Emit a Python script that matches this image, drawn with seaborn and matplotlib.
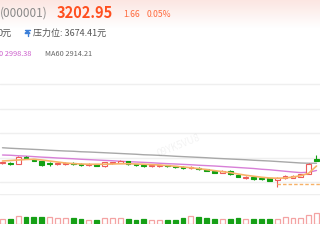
import numpy as np
import pandas as pd
import matplotlib
matplotlib.use("Agg")
import matplotlib.pyplot as plt
from matplotlib.lines import Line2D
from matplotlib.patches import Polygon
import seaborn as sns

# ---------------- data ----------------
opens  = [3192, 3194, 3188, 3240, 3222, 3206, 3196, 3184, 3184, 3194,
          3184, 3178, 3182, 3166, 3190, 3196, 3206, 3184, 3178, 3166,
          3168, 3176, 3168, 3162, 3150, 3154, 3144, 3128, 3114, 3130,
          3096, 3072, 3078, 3074, 3070, 3056, 3070, 3074, 3082, 3106, 3222]
closes = [3198, 3184, 3242, 3234, 3212, 3178, 3186, 3190, 3190, 3184,
          3176, 3184, 3170, 3198, 3198, 3206, 3182, 3176, 3168, 3176,
          3174, 3168, 3158, 3150, 3162, 3142, 3132, 3114, 3128, 3104,
          3082, 3082, 3064, 3062, 3050, 3074, 3088, 3088, 3102, 3188, 3210]
highs  = [3204, 3202, 3248, 3248, 3228, 3212, 3204, 3196, 3198, 3200,
          3190, 3190, 3186, 3202, 3204, 3216, 3212, 3188, 3184, 3180,
          3178, 3180, 3172, 3168, 3168, 3160, 3148, 3134, 3134, 3136,
          3102, 3088, 3082, 3080, 3074, 3080, 3094, 3094, 3106, 3192, 3256]
lows   = [3184, 3176, 3184, 3228, 3208, 3172, 3172, 3176, 3176, 3178,
          3170, 3172, 3166, 3162, 3186, 3192, 3176, 3172, 3162, 3160,
          3164, 3162, 3152, 3144, 3144, 3136, 3128, 3110, 3110, 3098,
          3078, 3062, 3058, 3056, 3046, 3000, 3064, 3070, 3078, 3102, 3206]
ma_orange = [3208, 3212, 3216, 3220, 3222, 3216, 3208, 3200, 3192, 3187,
             3184, 3182, 3182, 3182, 3184, 3186, 3186, 3184, 3182, 3179,
             3176, 3171, 3166, 3160, 3154, 3147, 3139, 3131, 3123, 3115,
             3104, 3094, 3086, 3078, 3072, 3070, 3072, 3080, 3090, 3110, 3168]
ma30 = [3256, 3254, 3250, 3247, 3243, 3239, 3236, 3232, 3229, 3226,
        3222, 3219, 3216, 3213, 3210, 3206, 3203, 3200, 3197, 3194,
        3190, 3187, 3184, 3181, 3178, 3174, 3171, 3168, 3164, 3160,
        3156, 3152, 3148, 3142, 3138, 3132, 3126, 3120, 3115, 3118, 3132]
ma60 = [3314, 3310, 3307, 3304, 3301, 3298, 3294, 3291, 3288, 3286,
        3282, 3280, 3277, 3274, 3271, 3268, 3265, 3262, 3258, 3256,
        3253, 3250, 3246, 3243, 3240, 3237, 3234, 3230, 3227, 3224,
        3221, 3218, 3214, 3211, 3208, 3204, 3200, 3196, 3192, 3190, 3190]
volumes = [500, 500, 830, 670, 670, 730, 670, 570, 600, 570,
           500, 430, 430, 570, 570, 570, 500, 430, 500, 430,
           400, 400, 400, 570, 830, 670, 570, 500, 500, 500,
           570, 500, 500, 500, 500, 500, 670, 570, 570, 930, 1100]
vol_up = [1, 0, 1, 0, 0, 0, 1, 1, 1, 0,
          0, 1, 0, 1, 1, 1, 0, 0, 0, 1,
          1, 0, 0, 0, 1, 0, 0, 0, 1, 0,
          0, 1, 0, 0, 0, 1, 1, 1, 1, 1, 1]
support_level = 3024
support_start = 35
grid_levels = [3040, 3236, 3432, 3628, 3824]

title_code = "(000001)"
price_text = "3202.95"
change_text = "1.66"
pct_text = "0.05%"
pressure_text = "压力位: 3674.41元"
left_text = "0元"
ma30_text = "0 2998.38"
ma60_text = "MA60 2914.21"

# ---------------- style ----------------
sns.set_style("white")
plt.rcParams['font.family'] = ['Noto Sans CJK SC', 'DejaVu Sans']

W, H = 320, 240
fig = plt.figure(figsize=(3.2, 2.4), dpi=100)
fig.patch.set_facecolor("white")

def fx(x):
    return x / W

def fy(y):
    return 1 - y / H

# header gradient
hax = fig.add_axes([0, fy(28), 1, 28 / H])
grad = np.linspace(0, 1, 64).reshape(-1, 1)
top = np.array([252, 230, 226]) / 255
bot = np.array([255, 255, 255]) / 255
img = top[None, None, :] * (1 - grad[:, :, None]) + bot[None, None, :] * grad[:, :, None]
hax.imshow(img, aspect="auto", extent=[0, 1, 0, 1])
hax.set_axis_off()

# ---------------- price axes ----------------
n = len(opens)
idx = np.arange(n)
xlim = (-0.318, 40.446)
ax = fig.add_axes([0, fy(190), 1, 128 / H])
ax.set_xlim(*xlim)
ax.set_ylim(2976, 4000)
for lv in grid_levels:
    ax.axhline(lv, color="#efefef", lw=1.0, zorder=0)

red = "#ec5b5b"
green = "#12a012"
up = [c >= o for o, c in zip(opens, closes)]
wick_colors = [red if u else green for u in up]
ax.vlines(idx, lows, highs, colors=wick_colors, lw=0.8, zorder=2)
body_bottom = [min(o, c) for o, c in zip(opens, closes)]
body_h = [max(abs(c - o), 3) for o, c in zip(opens, closes)]
ax.bar(idx, body_h, bottom=body_bottom, width=0.6,
       color=["white" if u else green for u in up],
       edgecolor=wick_colors, linewidth=0.8, zorder=3)

df = pd.DataFrame({"i": idx, "ma_o": ma_orange, "ma30": ma30, "ma60": ma60})
sns.lineplot(data=df, x="i", y="ma60", ax=ax, color="#a8a8a8", lw=1.0, zorder=1)
sns.lineplot(data=df, x="i", y="ma30", ax=ax, color="#d77fd7", lw=1.0, zorder=1)
sns.lineplot(data=df, x="i", y="ma_o", ax=ax, color="#f7b267", lw=1.2, zorder=4)

ax.hlines(support_level, support_start, xlim[1], colors="#f7b267",
          linestyles=(0, (2.5, 1.5)), lw=1.0, zorder=2)

ax.text(19.5, 3330, "09YK5VU8", rotation=22, fontsize=7, color="#000000",
        alpha=0.05, ha="left", va="center")

ax.set_axis_off()

# ---------------- volume axes ----------------
vax = fig.add_axes([0, fy(224), 1, 30 / H])
vax.set_xlim(*xlim)
vax.set_ylim(0, 3000)
vax.axhline(3000, color="#efefef", lw=1.0, zorder=0)
vcol = ["white" if u else "#16a016" for u in vol_up]
vedge = ["#f4a3a3" if u else "#16a016" for u in vol_up]
vax.bar(idx, volumes, width=0.62, color=vcol, edgecolor=vedge, linewidth=0.9)
vax.set_axis_off()

# ---------------- header texts ----------------
fig.text(fx(0), fy(13), title_code, fontsize=8.5, color="#8a8a8a", ha="left", va="center")
fig.text(fx(57), fy(12.5), price_text, fontsize=10.5, fontweight="bold",
         color="#ff4f1f", ha="left", va="center")
fig.text(fx(123), fy(14.5), change_text, fontsize=6.2, color="#ff6a3d", ha="left", va="center")
fig.text(fx(147), fy(14.5), pct_text, fontsize=6.2, color="#ff6a3d", ha="left", va="center")

fig.text(fx(11.5), fy(33), left_text, fontsize=6.5, color="#555555", ha="right", va="center")
# pressure icon
icol = "#3b7fd8"
fig.add_artist(Line2D([fx(25), fx(30)], [fy(29.5), fy(29.5)], color=icol, lw=1.0,
                      transform=fig.transFigure))
fig.add_artist(Polygon([[fx(25), fy(33.5)], [fx(30), fy(33.5)], [fx(27.5), fy(30.8)]],
                       closed=True, color=icol, transform=fig.transFigure))
fig.add_artist(Line2D([fx(27.5), fx(27.5)], [fy(33.5), fy(36)], color=icol, lw=1.0,
                      transform=fig.transFigure))
fig.text(fx(33), fy(33), pressure_text, fontsize=6.5, color="#555555", ha="left", va="center")

fig.text(fx(-1), fy(54), ma30_text, fontsize=5.3, color="#cc5fcc", ha="left", va="center")
fig.text(fx(45), fy(54), ma60_text, fontsize=5.3, color="#666666", ha="left", va="center")

fig.savefig("out.png", dpi=100, facecolor="white")
